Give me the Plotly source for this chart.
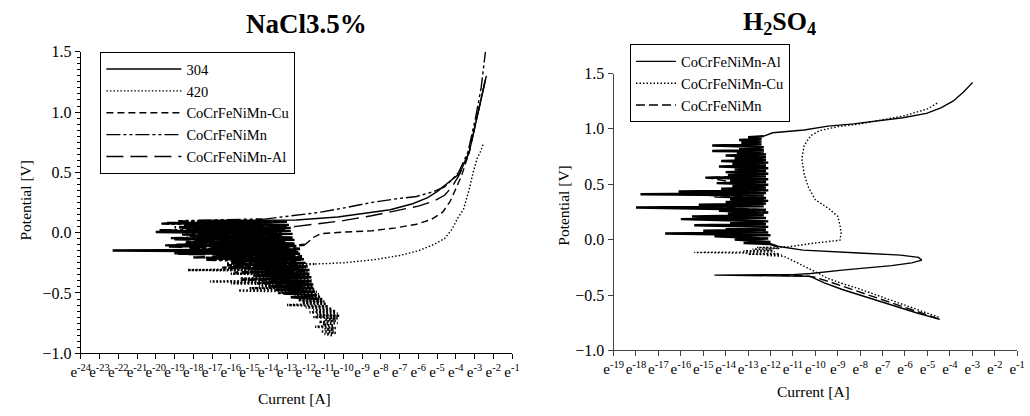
import plotly.graph_objects as go

W, H = 1030, 416

# ---------------- NaCl 3.5% (x values are ln(I)) ----------------
# noisy cathodic parts
nacl_304_noise = [(-11.3,-0.55),(-12.8,-0.535),(-11.4,-0.52),(-13.2,-0.505),(-11.5,-0.49),
                  (-13.6,-0.475),(-11.6,-0.46),(-14.0,-0.445),(-11.6,-0.43),(-14.3,-0.415),
                  (-11.7,-0.40),(-14.5,-0.385),(-11.7,-0.37),(-14.8,-0.355),(-11.8,-0.34),
                  (-15.0,-0.325),(-11.8,-0.31),(-15.3,-0.295),(-11.9,-0.28),(-15.6,-0.265),
                  (-12.0,-0.25),(-16.0,-0.235),(-12.1,-0.22),(-17.3,-0.215),(-12.2,-0.205),
                  (-16.5,-0.19),(-12.3,-0.175),(-19.0,-0.17),(-12.4,-0.16),(-22.3,-0.148),
                  (-12.5,-0.14),(-17.0,-0.125),(-12.5,-0.11),(-18.9,-0.10),(-12.6,-0.09),
                  (-17.5,-0.075),(-12.6,-0.06),(-19.0,-0.05),(-12.7,-0.04),(-18.0,-0.025),
                  (-12.7,-0.01),(-20.0,0.005),(-12.8,0.015),(-18.0,0.03),(-12.8,0.04),
                  (-18.5,0.055),(-12.9,0.065),(-19.4,0.08),(-13.0,0.09),(-17.0,0.10)]
nacl_304_pass = [(-17.0,0.10),(-12.5,0.105),(-10.3,0.13),(-8.8,0.165),(-7.5,0.19),
                 (-6.3,0.24),(-5.5,0.29),(-5.0,0.34),(-4.5,0.40),(-4.1,0.45),
                 (-3.8,0.49),(-3.28,0.67),(-2.85,0.96),(-2.55,1.18),(-2.37,1.30)]

nacl_420_noise = [(-10.6,-0.85),(-11.0,-0.84),(-10.4,-0.83),(-11.2,-0.82),(-10.5,-0.81),
                  (-11.0,-0.80),(-10.4,-0.79),(-11.5,-0.78),(-10.5,-0.77),(-11.1,-0.76),
                  (-10.3,-0.75),(-11.3,-0.74),(-10.4,-0.73),(-11.0,-0.72),(-10.3,-0.71),
                  (-11.6,-0.70),(-10.2,-0.69),(-11.4,-0.68),(-10.3,-0.67),(-11.8,-0.66),
                  (-10.4,-0.65),(-11.6,-0.64),(-10.6,-0.63),(-12.0,-0.62),(-10.8,-0.61),
                  (-13.0,-0.60),(-10.9,-0.59),(-12.2,-0.58),(-11.0,-0.57),(-12.4,-0.56),
                  (-11.1,-0.55),(-12.0,-0.54),(-11.2,-0.53),(-12.6,-0.52),(-11.3,-0.51),
                  (-13.5,-0.50),(-11.4,-0.49),(-15.6,-0.48),(-11.5,-0.47),(-15.0,-0.46),
                  (-11.6,-0.45),(-14.5,-0.44),(-11.6,-0.43),(-16.0,-0.42),(-11.7,-0.41),
                  (-17.1,-0.405),(-11.7,-0.395),(-15.5,-0.38),(-11.8,-0.37),(-14.8,-0.36),
                  (-11.8,-0.35),(-16.0,-0.34),(-11.9,-0.33),(-15.0,-0.32),(-11.9,-0.315),
                  (-18.3,-0.31),(-12.0,-0.30),(-16.0,-0.29),(-12.0,-0.28),(-14.5,-0.27),
                  (-11.5,-0.26)]
nacl_420_pass = [(-11.5,-0.26),(-10.0,-0.25),(-8.4,-0.225),(-7.0,-0.19),(-6.0,-0.15),
                 (-5.2,-0.10),(-4.6,-0.05),(-4.2,0.03),(-3.9,0.12),(-3.6,0.19),
                 (-3.3,0.35),(-3.06,0.51),(-2.85,0.62),(-2.69,0.67),(-2.55,0.73)]

nacl_cu_noise = [(-11.6,-0.46),(-13.8,-0.45),(-11.7,-0.435),(-14.6,-0.42),(-11.8,-0.405),
                 (-15.4,-0.39),(-11.9,-0.375),(-14.2,-0.36),(-12.0,-0.345),(-15.8,-0.33),
                 (-12.0,-0.315),(-14.8,-0.30),(-12.1,-0.285),(-16.2,-0.27),(-12.1,-0.255),
                 (-15.0,-0.24),(-12.2,-0.225),(-14.4,-0.21),(-12.2,-0.195),(-15.6,-0.18),
                 (-12.3,-0.165),(-14.0,-0.15),(-12.2,-0.135),(-13.5,-0.12),(-12.05,-0.10)]
nacl_cu_pass = [(-12.05,-0.10),(-11.6,-0.04),(-11.2,-0.008),(-10.0,0.005),(-8.5,0.015),
                (-7.2,0.04),(-6.1,0.07),(-5.3,0.11),(-4.7,0.17),(-4.3,0.26),
                (-4.04,0.35),(-3.7,0.47),(-3.3,0.66),(-2.9,0.94),(-2.6,1.14),(-2.45,1.25)]

nacl_base_noise = [(-12.3,-0.30),(-16.5,-0.29),(-12.4,-0.27),(-16.2,-0.255),(-12.5,-0.24),
                   (-17.3,-0.225),(-12.6,-0.21),(-16.8,-0.195),(-12.7,-0.18),(-19.0,-0.165),
                   (-12.8,-0.15),(-18.2,-0.135),(-12.9,-0.12),(-19.5,-0.105),(-13.0,-0.09),
                   (-18.4,-0.075),(-13.1,-0.06),(-19.2,-0.045),(-13.2,-0.03),(-18.6,-0.015),
                   (-13.3,0.0),(-19.8,0.02),(-13.4,0.03),(-19.0,0.045),(-13.6,0.06),
                   (-19.7,0.075),(-13.8,0.085),(-18.8,0.095),(-14.3,0.11)]
nacl_base_pass = [(-14.3,0.11),(-12.8,0.14),(-11.2,0.17),(-9.8,0.21),(-8.5,0.25),
                  (-7.2,0.28),(-6.1,0.30),(-5.2,0.34),(-4.6,0.38),(-4.2,0.44),
                  (-3.85,0.50),(-3.35,0.67),(-2.95,0.95),(-2.65,1.20),(-2.50,1.40),(-2.42,1.50)]

nacl_al_noise = [(-12.6,-0.22),(-18.0,-0.205),(-12.7,-0.19),(-18.8,-0.175),(-12.8,-0.16),
                 (-17.8,-0.145),(-12.9,-0.13),(-19.3,-0.115),(-13.0,-0.10),(-18.5,-0.085),
                 (-13.1,-0.07),(-19.0,-0.055),(-13.2,-0.04),(-18.2,-0.025),(-13.2,-0.01),
                 (-19.6,0.01),(-13.1,0.025),(-18.6,0.04),(-12.6,0.05)]
nacl_al_pass = [(-12.6,0.05),(-10.0,0.10),(-8.5,0.14),(-7.2,0.18),(-6.0,0.22),
                (-5.2,0.26),(-4.6,0.31),(-4.2,0.38),(-3.85,0.47),(-3.3,0.66),
                (-2.9,0.94),(-2.6,1.15),(-2.42,1.27)]

# ---------------- H2SO4 ----------------
h2so4_al_cath = [(-4.45,-0.72),(-5.5,-0.66),(-6.6,-0.59),(-7.7,-0.52),(-8.8,-0.45),
                 (-9.6,-0.39),(-10.25,-0.33),(-12.0,-0.326),(-14.5,-0.32),(-11.0,-0.316),
                 (-10.2,-0.305),(-8.8,-0.275),(-7.5,-0.255),(-6.6,-0.235),(-5.7,-0.21),
                 (-5.25,-0.185),(-5.4,-0.16),(-6.2,-0.14),(-8.05,-0.12),(-10.55,-0.095),
                 (-11.7,-0.06)]
h2so4_al_noise = [(-11.7,-0.06),(-12.0,-0.04),(-13.2,-0.03),(-12.0,-0.02),(-13.6,0.0),
                  (-12.1,0.01),(-14.5,0.03),(-12.0,0.04),(-16.7,0.055),(-12.1,0.065),
                  (-15.0,0.08),(-12.2,0.09),(-14.0,0.105),(-12.1,0.115),(-15.4,0.13),
                  (-12.2,0.14),(-13.8,0.155),(-12.1,0.165),(-16.0,0.185),(-12.2,0.195),
                  (-15.5,0.21),(-12.3,0.22),(-13.9,0.235),(-12.1,0.245),(-14.3,0.26),
                  (-12.2,0.27),(-18.0,0.29),(-12.3,0.30),(-15.2,0.315),(-12.2,0.325),
                  (-14.0,0.34),(-12.1,0.35),(-13.8,0.365),(-12.2,0.375),(-14.5,0.39),
                  (-12.3,0.40),(-17.8,0.41),(-12.2,0.42),(-16.1,0.435),(-12.1,0.445),
                  (-14.2,0.46),(-12.2,0.47),(-13.7,0.485),(-12.1,0.495),(-14.4,0.51),
                  (-12.2,0.52),(-13.8,0.535),(-12.1,0.545),(-14.9,0.56),(-12.2,0.57),
                  (-13.9,0.585),(-12.1,0.595),(-14.0,0.61),(-12.2,0.62),(-13.6,0.635),
                  (-12.1,0.645),(-14.3,0.66),(-12.2,0.67),(-13.7,0.685),(-12.1,0.695),
                  (-14.2,0.71),(-12.2,0.72),(-13.6,0.735),(-12.2,0.745),(-14.0,0.76),
                  (-12.2,0.77),(-13.5,0.785),(-12.3,0.795),(-14.6,0.80),(-12.3,0.81),
                  (-13.4,0.825),(-12.3,0.835),(-14.6,0.85),(-12.4,0.86),(-13.3,0.875),
                  (-12.4,0.885),(-13.4,0.90),(-12.4,0.91),(-13.0,0.925),(-12.3,0.935)]
h2so4_al_pass = [(-12.3,0.935),(-11.9,0.965),(-10.5,0.99),(-9.43,1.025),(-8.3,1.045),
                 (-7.24,1.07),(-6.1,1.10),(-5.04,1.14),(-4.4,1.19),(-3.86,1.25),
                 (-3.4,1.33),(-2.98,1.42)]

h2so4_cu = [(-4.5,-0.70),(-5.4,-0.635),(-6.3,-0.565),(-7.2,-0.50),(-8.1,-0.44),
            (-8.9,-0.39),(-9.5,-0.345),(-9.8,-0.31),(-10.2,-0.27),(-10.7,-0.22),
            (-11.1,-0.18),(-11.4,-0.15),(-12.2,-0.142),(-11.5,-0.137),(-13.0,-0.132),
            (-11.6,-0.127),(-15.4,-0.115),(-11.8,-0.11),(-13.2,-0.10),(-11.9,-0.095),
            (-12.8,-0.085),(-11.6,-0.08),(-12.6,-0.07),(-11.2,-0.065),(-10.2,-0.035),
            (-8.9,-0.005),(-8.85,0.06),(-8.9,0.13),(-9.0,0.21),(-9.4,0.28),
            (-10.0,0.36),(-10.3,0.47),(-10.5,0.59),(-10.6,0.73),(-10.5,0.85),
            (-10.2,0.94),(-9.8,0.985),(-9.0,1.02),(-8.0,1.045),(-7.0,1.08),
            (-6.0,1.12),(-5.0,1.18),(-4.5,1.24)]

h2so4_base = [(-4.5,-0.715),(-5.5,-0.645),(-6.5,-0.575),(-7.5,-0.505),(-8.5,-0.44),
              (-9.3,-0.385),(-10.0,-0.34),(-10.5,-0.326),(-11.8,-0.322),(None,None),
              (-12.4,0.27),(-15.2,0.31),(-12.3,0.33),(-13.8,0.36),(-12.2,0.38),
              (-16.2,0.41),(-12.3,0.425),(-14.0,0.45),(-12.2,0.47),(-14.9,0.56),
              (-12.3,0.58)]

nacl_ticks = list(range(-24, 0))
h2so4_ticks = list(range(-19, 0))

FONT = "Liberation Serif"


def xs(p):
    return [a for a, b in p]


def ys(p):
    return [b for a, b in p]


fig = go.Figure()


def add(name, parts, dash, xa, ya, leg):
    first = True
    for pts, width in parts:
        fig.add_trace(go.Scatter(
            x=xs(pts), y=ys(pts), mode="lines", name=name,
            line=dict(color="black", width=width, dash=dash),
            connectgaps=False, legendgroup=leg + name, showlegend=first,
            xaxis=xa, yaxis=ya, legend=leg))
        first = False


NW, PW = 2.4, 1.4
add("304", [(nacl_304_pass, PW), (nacl_304_noise, NW)], "solid", "x", "y", "legend")
add("420", [(nacl_420_pass, PW), (nacl_420_noise, NW)], "1.5px,2px", "x", "y", "legend")
add("CoCrFeNiMn-Cu", [(nacl_cu_pass, PW), (nacl_cu_noise, NW)], "7px,4px", "x", "y", "legend")
add("CoCrFeNiMn", [(nacl_base_pass, PW), (nacl_base_noise, NW)],
    "14px,3px,3px,3px,3px,3px", "x", "y", "legend")
add("CoCrFeNiMn-Al", [(nacl_al_pass, PW), (nacl_al_noise, NW)], "17px,7px", "x", "y", "legend")

add("CoCrFeNiMn-Al", [(h2so4_al_pass, PW), (h2so4_al_cath, PW), (h2so4_al_noise, NW)],
    "solid", "x2", "y2", "legend2")
add("CoCrFeNiMn-Cu", [(h2so4_cu, PW)], "1.5px,2px", "x2", "y2", "legend2")
add("CoCrFeNiMn", [(h2so4_base, PW)], "9px,4px", "x2", "y2", "legend2")

xtickfont = dict(family=FONT, size=15, color="black")
ytickfont = dict(family=FONT, size=16, color="black")
axis_common = dict(showgrid=False, zeroline=False, showline=True, linewidth=1,
                   ticks="outside", ticklen=5, tickwidth=1, tickangle=0)

fig.update_layout(
    width=W, height=H,
    margin=dict(l=0, r=0, t=0, b=0),
    paper_bgcolor="white", plot_bgcolor="white",
    font=dict(family=FONT, color="black"),
    xaxis=dict(domain=[72/W, 511/W], range=[-24, -1], anchor="y",
               tickvals=nacl_ticks,
               ticktext=["e<sup>%d</sup>" % v for v in nacl_ticks],
               tickfont=xtickfont,
               linecolor="black", tickcolor="black", **axis_common),
    yaxis=dict(domain=[1-360/H, 1-45.6/H], range=[-1.0, 1.5], anchor="x",
               dtick=0.5, tickformat=".1f", tickfont=ytickfont,
               minor=dict(dtick=0.05, ticks="outside", ticklen=3, tickcolor="black"),
               linecolor="black", tickcolor="black", **axis_common),
    xaxis2=dict(domain=[614.3/W, 1025/W], range=[-19, -1], anchor="y2",
                tickvals=h2so4_ticks,
                ticktext=["e<sup>%d</sup>" % v for v in h2so4_ticks],
                tickfont=xtickfont,
                linecolor="#444", tickcolor="#444", **axis_common),
    yaxis2=dict(domain=[1-357/H, 1-68.3/H], range=[-1.0, 1.5], anchor="x2",
                dtick=0.5, tickformat=".1f", tickfont=ytickfont,
                linecolor="#444", tickcolor="#444", **axis_common),
    legend=dict(x=92/W, y=1-46/H, xanchor="left", yanchor="top",
                bordercolor="black", borderwidth=1, bgcolor="white",
                font=dict(family=FONT, size=14.5, color="black"),
                itemwidth=75, tracegroupgap=0),
    legend2=dict(x=631/W, y=1-38/H, xanchor="left", yanchor="top",
                 bordercolor="black", borderwidth=1, bgcolor="white",
                 font=dict(family=FONT, size=14.5, color="black"),
                 itemwidth=40, tracegroupgap=0),
    showlegend=True,
    annotations=[
        dict(text="<b>NaCl3.5%</b>", x=302/W, y=1-17/H, xref="paper", yref="paper",
             showarrow=False, font=dict(family=FONT, size=27, color="black"),
             xanchor="center", yanchor="middle"),
        dict(text="<b>H<sub>2</sub>SO<sub>4</sub></b>", x=783/W, y=1-16/H,
             xref="paper", yref="paper", showarrow=False,
             font=dict(family=FONT, size=26, color="black"),
             xanchor="center", yanchor="middle"),
        dict(text="Potential [V]", x=16/W, y=1-200/H, xref="paper", yref="paper",
             showarrow=False, textangle=-90, font=dict(family=FONT, size=15.5, color="black"),
             xanchor="center", yanchor="middle"),
        dict(text="Potential [V]", x=563/W, y=1-206/H, xref="paper", yref="paper",
             showarrow=False, textangle=-90, font=dict(family=FONT, size=15.5, color="black"),
             xanchor="center", yanchor="middle"),
        dict(text="Current [A]", x=290/W, y=1-407/H, xref="paper", yref="paper",
             showarrow=False, font=dict(family=FONT, size=15.5, color="black"),
             xanchor="center", yanchor="middle"),
        dict(text="Current [A]", x=818/W, y=1-400/H, xref="paper", yref="paper",
             showarrow=False, font=dict(family=FONT, size=15.5, color="black"),
             xanchor="center", yanchor="middle"),
    ],
)

fig.write_html("out.html")
